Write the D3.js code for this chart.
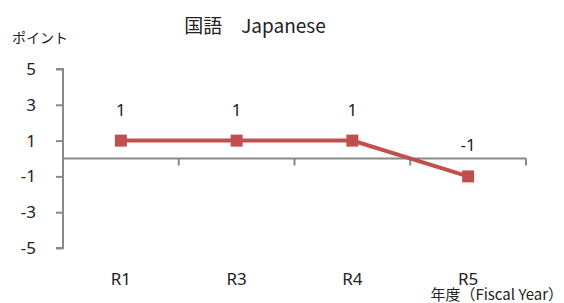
<!DOCTYPE html>
<html>
<head>
<meta charset="utf-8">
<script src="https://cdn.jsdelivr.net/npm/d3@7"></script>
<style>
  body { margin: 0; background: #fff; }
  text { font-family: "Noto Sans", "Noto Sans CJK JP", sans-serif; fill: #222; }
</style>
</head>
<body>
<svg id="chart"></svg>
<script>
const categories = ["R1", "R3", "R4", "R5"];
const values = [1, 1, 1, -1];
const yTicks = [5, 3, 1, -1, -3, -5];

const width = 564, height = 303;
const plotLeft = 63, plotRight = 526, plotTop = 69, plotBottom = 248;

const svg = d3.select("#chart")
    .attr("width", width)
    .attr("height", height);

const x = d3.scaleBand()
    .domain(categories)
    .range([plotLeft, plotRight]);

const y = d3.scaleLinear()
    .domain([-5, 5])
    .range([plotBottom, plotTop]);

const axisColor = "#898989";

// y axis
const yAxis = svg.append("g")
    .attr("transform", "translate(" + plotLeft + ",0)")
    .call(d3.axisLeft(y).tickValues(yTicks).tickSize(7).tickPadding(20).tickFormat(d => String(d)));
yAxis.select(".domain").attr("stroke", axisColor).attr("stroke-width", 2)
    .attr("d", "M-7," + y(5) + "H0V" + y(-5) + "H-7");
yAxis.selectAll(".tick line").attr("stroke", axisColor).attr("stroke-width", 2);
yAxis.selectAll(".tick text")
    .style("font-size", "17px")
    .style("font-family", "'Noto Sans', sans-serif")
    .attr("fill", "#222");

// x axis at zero
const xAxis = svg.append("g")
    .attr("transform", "translate(0," + y(0) + ")");
xAxis.append("line")
    .attr("x1", plotLeft).attr("x2", plotRight)
    .attr("stroke", axisColor).attr("stroke-width", 2);
const bounds = categories.map(d => x(d)).concat([plotRight]);
xAxis.selectAll(".xt")
    .data(bounds.slice(1))
    .join("line")
    .attr("x1", d => d).attr("x2", d => d)
    .attr("y1", 0).attr("y2", 7)
    .attr("stroke", axisColor).attr("stroke-width", 2);

// category labels
svg.selectAll(".cat")
    .data(categories)
    .join("text")
    .attr("x", d => x(d) + x.bandwidth() / 2)
    .attr("y", 285)
    .attr("text-anchor", "middle")
    .style("font-size", "17px")
    .text(d => d);

// line
const line = d3.line()
    .x((d, i) => x(categories[i]) + x.bandwidth() / 2)
    .y(d => y(d));

svg.append("path")
    .datum(values)
    .attr("d", line)
    .attr("fill", "none")
    .attr("stroke", "#C0504D")
    .attr("stroke-width", 4);

svg.selectAll(".pt")
    .data(values)
    .join("rect")
    .attr("x", (d, i) => x(categories[i]) + x.bandwidth() / 2 - 6)
    .attr("y", d => y(d) - 6)
    .attr("width", 12)
    .attr("height", 12)
    .attr("fill", "#C0504D");

// data labels
svg.selectAll(".lbl")
    .data(values)
    .join("text")
    .attr("x", (d, i) => x(categories[i]) + x.bandwidth() / 2)
    .attr("y", d => y(d) - 25)
    .attr("text-anchor", "middle")
    .style("font-size", "17px")
    .text(d => d);

// title
svg.append("text")
    .attr("x", 255)
    .attr("y", 33)
    .attr("text-anchor", "middle")
    .style("font-size", "19px")
    .style("font-family", "'Noto Sans CJK JP', sans-serif")
    .text("国語　Japanese");

svg.append("text")
    .attr("x", 12)
    .attr("y", 43)
    .style("font-size", "14px")
    .style("font-family", "'Noto Sans CJK JP', sans-serif")
    .text("ポイント");

svg.append("text")
    .attr("x", 563)
    .attr("y", 300)
    .attr("text-anchor", "end")
    .style("font-size", "15px")
    .style("font-family", "'Noto Sans CJK JP', sans-serif")
    .text("年度（Fiscal Year）");
</script>
</body>
</html>
